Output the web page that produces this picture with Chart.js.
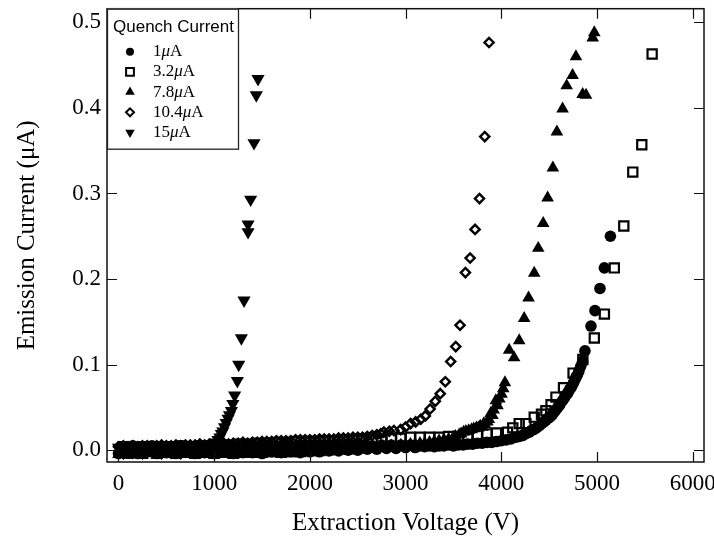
<!DOCTYPE html>
<html><head><meta charset="utf-8">
<script src="https://cdn.jsdelivr.net/npm/chart.js@4.4.1/dist/chart.umd.min.js"></script>
<style>html,body{margin:0;padding:0;background:#fff}canvas{display:block}</style>
</head><body>
<canvas id="c" width="714" height="542"></canvas>
<script>
// ---------- data ----------
const seriesLabels = ['1μA', '3.2μA', '7.8μA', '10.4μA', '15μA'];
const legendTitle = 'Quench Current';
const xTitle = 'Extraction Voltage (V)';
const yTitle = 'Emission Current (μA)';
const xTicks = [0, 1000, 2000, 3000, 4000, 5000, 6000];
const yTicks = [0.0, 0.1, 0.2, 0.3, 0.4, 0.5];

// [voltage (V), current (μA)]
const q1 = [[0,-0.004],[50,0.004],[100,-0.003],[150,0.005],[200,-0.004],[250,0.003],[300,-0.002],[350,0.005],[400,-0.004],[450,0.002],[500,-0.003],[550,0.004],[600,-0.004],[650,0.005],[700,-0.002],[750,0.003],[800,-0.004],[850,0.004],[900,-0.003],[950,0.005],[1000,-0.004],[1050,0.004],[1100,-0.002],[1150,0.005],[1200,-0.004],[1250,0.003],[1300,-0.003],[1350,0.005],[1400,-0.003],[1450,0.004],[1500,-0.004],[1550,0.005],[1600,-0.002],[1650,0.004],[1700,-0.003],[1750,0.006],[1800,-0.002],[1850,0.004],[1900,-0.003],[1950,0.005],[2000,-0.002],[2050,0.006],[2100,-0.002],[2150,0.005],[2200,-0.001],[2250,0.006],[2300,-0.001],[2350,0.005],[2400,0.000],[2450,0.006],[2500,0.000],[2550,0.006],[2600,0.001],[2650,0.005],[2700,0.001],[2750,0.006],[2800,0.002],[2850,0.006],[2900,0.002],[2950,0.006],[3000,0.003],[3050,0.006],[3100,0.003],[3150,0.005],[3200,0.004],[3250,0.005],[3300,0.004],[3350,0.005],[3400,0.005],[3450,0.006],[3500,0.005],[3550,0.006],[3600,0.006],[3650,0.007],[3700,0.007],[3750,0.008],[3800,0.008],[3850,0.009],[3900,0.009],[3950,0.010],[4000,0.011],[4050,0.012],[4100,0.013],[4150,0.015],[4190,0.016],[4222,0.017],[4250,0.019],[4270,0.020],[4291,0.021],[4315,0.023],[4335,0.024],[4355,0.025],[4379,0.027],[4400,0.029],[4420,0.031],[4445,0.033],[4466,0.035],[4485,0.037],[4500,0.038],[4520,0.040],[4536,0.042],[4555,0.045],[4570,0.047],[4590,0.050],[4605,0.052],[4620,0.055],[4640,0.058],[4660,0.061],[4675,0.064],[4690,0.066],[4700,0.068],[4715,0.071],[4728,0.073],[4742,0.076],[4755,0.079],[4768,0.082],[4780,0.085],[4795,0.088],[4810,0.092],[4830,0.098],[4850,0.104],[4874,0.116],[4937,0.145],[4979,0.163],[5031,0.189],[5077,0.213],[5140,0.250]];
const q32 = [[50,0.004],[150,0.003],[250,0.004],[350,0.003],[450,0.004],[550,0.004],[650,0.005],[750,0.004],[850,0.005],[950,0.005],[1050,0.006],[1150,0.006],[1250,0.007],[1350,0.007],[1450,0.008],[1550,0.008],[1650,0.009],[1750,0.009],[1850,0.010],[1950,0.010],[2050,0.010],[2150,0.011],[2250,0.011],[2350,0.012],[2450,0.012],[2550,0.012],[2650,0.013],[2750,0.013],[2850,0.014],[2950,0.014],[3050,0.015],[3150,0.015],[3250,0.015],[3350,0.015],[3450,0.016],[3550,0.016],[3650,0.017],[3750,0.018],[3850,0.019],[3950,0.020],[4065,0.021],[4120,0.026],[4187,0.031],[4257,0.031],[4344,0.0385],[4420,0.042],[4466,0.046],[4520,0.053],[4571,0.062],[4650,0.073],[4750,0.090],[4852,0.106],[4972,0.131],[5077,0.159],[5181,0.213],[5280,0.262],[5374,0.325],[5468,0.357],[5576,0.463]];
const q78 = [[0,-0.005],[50,-0.003],[100,-0.006],[150,-0.004],[200,-0.002],[250,-0.006],[300,-0.004],[350,-0.003],[400,-0.006],[450,-0.005],[500,-0.002],[550,-0.005],[600,-0.006],[650,-0.003],[700,-0.005],[750,-0.004],[800,-0.006],[850,-0.003],[900,-0.005],[950,-0.004],[1000,-0.006],[1050,-0.003],[1100,-0.005],[1150,-0.004],[1200,-0.006],[1250,-0.003],[1300,-0.005],[1350,-0.002],[1400,-0.005],[1450,-0.003],[1500,-0.005],[1550,-0.002],[1600,-0.004],[1650,-0.003],[1700,-0.005],[1750,-0.002],[1800,-0.004],[1850,-0.002],[1900,-0.004],[1950,-0.001],[2000,-0.003],[2050,-0.001],[2100,-0.003],[2150,0.000],[2200,-0.002],[2250,0.000],[2300,-0.001],[2350,0.001],[2400,-0.001],[2450,0.002],[2500,0.000],[2550,0.002],[2600,0.001],[2650,0.003],[2700,0.002],[2750,0.004],[2800,0.003],[2850,0.005],[2900,0.004],[2950,0.006],[3000,0.005],[3050,0.007],[3100,0.007],[3150,0.008],[3200,0.008],[3250,0.009],[3300,0.010],[3350,0.011],[3400,0.012],[3450,0.013],[3500,0.015],[3520,0.016],[3560,0.018],[3580,0.019],[3607,0.021],[3630,0.022],[3660,0.023],[3690,0.024],[3712,0.025],[3740,0.026],[3760,0.026],[3780,0.028],[3803,0.027],[3817,0.031],[3830,0.030],[3855,0.033],[3870,0.036],[3890,0.043],[3908,0.0405],[3920,0.047],[3943,0.058],[3960,0.052],[3980,0.060],[4002,0.0656],[4020,0.072],[4038,0.079],[4082,0.117],[4134,0.108],[4187,0.128],[4239,0.154],[4285,0.178],[4344,0.207],[4386,0.236],[4438,0.265],[4484,0.295],[4539,0.330],[4581,0.372],[4640,0.399],[4683,0.426],[4745,0.438],[4780,0.460],[4850,0.416],[4885,0.415],[4955,0.482],[4972,0.488]];
const q104 = [[0,0.004],[50,0.005],[100,0.004],[150,0.005],[200,0.004],[250,0.005],[300,0.005],[350,0.004],[400,0.005],[450,0.006],[500,0.005],[550,0.005],[600,0.006],[650,0.005],[700,0.006],[750,0.006],[800,0.006],[850,0.007],[900,0.006],[950,0.007],[1000,0.007],[1050,0.007],[1100,0.008],[1150,0.007],[1200,0.008],[1250,0.008],[1300,0.009],[1350,0.008],[1400,0.009],[1450,0.009],[1500,0.010],[1550,0.010],[1600,0.010],[1650,0.011],[1700,0.011],[1750,0.011],[1800,0.011],[1850,0.012],[1900,0.012],[1950,0.012],[2000,0.012],[2050,0.012],[2100,0.013],[2150,0.013],[2200,0.013],[2250,0.013],[2300,0.014],[2350,0.014],[2400,0.014],[2450,0.015],[2500,0.015],[2550,0.015],[2600,0.016],[2650,0.017],[2700,0.018],[2740,0.019],[2773,0.021],[2830,0.022],[2878,0.023],[2948,0.024],[3000,0.027],[3052,0.031],[3105,0.033],[3158,0.036],[3206,0.040],[3256,0.048],[3310,0.057],[3362,0.066],[3415,0.080],[3471,0.1035],[3524,0.121],[3569,0.146],[3625,0.2075],[3674,0.2245],[3726,0.258],[3772,0.294],[3827,0.3665],[3872,0.4765]];
const q15 = [[0,0.003],[50,-0.003],[100,0.005],[150,-0.002],[200,0.004],[250,-0.003],[300,0.005],[350,-0.001],[400,0.004],[450,-0.003],[500,0.005],[550,-0.002],[600,0.004],[650,-0.003],[700,0.005],[750,-0.001],[800,0.004],[850,-0.002],[900,0.005],[950,0.004],[975,0.005],[1000,0.006],[1020,0.009],[1040,0.012],[1060,0.015],[1075,0.019],[1090,0.022],[1108,0.027],[1125,0.032],[1145,0.037],[1160,0.041],[1180,0.046],[1195,0.054],[1214,0.064],[1242,0.081],[1256,0.100],[1284,0.131],[1312,0.175],[1354,0.255],[1354,0.264],[1381,0.293],[1416,0.359],[1440,0.415],[1458,0.434]];

// ---------- styles ----------
const SERIF = '"Liberation Serif", "Times New Roman", serif';
const SANS = '"Liberation Sans", Arial, sans-serif';
const toPts = a => a.map(p => ({x: p[0], y: p[1]}));
const styles = [
  {pointStyle: 'circle', pointRadius: 5.8, pointBackgroundColor: '#000', pointBorderColor: '#000', pointBorderWidth: 0, rotation: 0, order: 1},
  {pointStyle: 'rect', pointRadius: 6.5, pointBackgroundColor: 'rgba(255,255,255,0)', pointBorderColor: '#000', pointBorderWidth: 2.2, rotation: 0, order: 4},
  {pointStyle: 'triangle', pointRadius: 7.3, pointBackgroundColor: '#000', pointBorderColor: '#000', pointBorderWidth: 0, rotation: 0, order: 2},
  {pointStyle: 'rectRot', pointRadius: 4.6, pointBackgroundColor: 'rgba(255,255,255,0)', pointBorderColor: '#000', pointBorderWidth: 2.4, rotation: 0, order: 3},
  {pointStyle: 'triangle', pointRadius: 7.6, pointBackgroundColor: '#000', pointBorderColor: '#000', pointBorderWidth: 0, rotation: 180, order: 0}
];
const allData = [q1, q32, q78, q104, q15];
const datasets = allData.map((d, i) => Object.assign({
  label: seriesLabels[i], data: toPts(d), showLine: false,
  pointRotation: styles[i].rotation, pointHoverRadius: styles[i].pointRadius
}, styles[i]));

// ---------- plugin: frame, inward ticks, legend ----------
function shape(ctx, kind, x, y, r, rot) {
  ctx.beginPath();
  if (kind === 'circle') { ctx.arc(x, y, r, 0, Math.PI * 2); }
  else if (kind === 'rect') { const s = r * Math.SQRT1_2; ctx.rect(x - s, y - s, 2 * s, 2 * s); }
  else if (kind === 'rectRot') { ctx.moveTo(x - r, y); ctx.lineTo(x, y - r); ctx.lineTo(x + r, y); ctx.lineTo(x, y + r); ctx.closePath(); }
  else if (kind === 'triangle') {
    let a = rot ? Math.PI : 0;
    ctx.moveTo(x + Math.sin(a) * r, y - Math.cos(a) * r);
    a += 2 * Math.PI / 3; ctx.lineTo(x + Math.sin(a) * r, y - Math.cos(a) * r);
    a += 2 * Math.PI / 3; ctx.lineTo(x + Math.sin(a) * r, y - Math.cos(a) * r);
    ctx.closePath();
  }
}
const framePlugin = {
  id: 'frame',
  afterDatasetsDraw(chart) {
    const {ctx, chartArea: a, scales: {x, y}} = chart;
    ctx.save();
    ctx.strokeStyle = '#111'; ctx.lineWidth = 1.5;
    ctx.strokeRect(a.left, a.top, a.right - a.left, a.bottom - a.top);
    ctx.lineWidth = 1.2;
    const L = 10;
    ctx.beginPath();
    x.ticks.forEach(t => {
      const p = Math.round(x.getPixelForValue(t.value)) + 0.5;
      ctx.moveTo(p, a.bottom); ctx.lineTo(p, a.bottom - L);
      ctx.moveTo(p, a.top); ctx.lineTo(p, a.top + L);
    });
    y.ticks.forEach(t => {
      const p = Math.round(y.getPixelForValue(t.value)) + 0.5;
      ctx.moveTo(a.left, p); ctx.lineTo(a.left + L, p);
      ctx.moveTo(a.right, p); ctx.lineTo(a.right - L, p);
    });
    ctx.stroke();

    // legend box
    const bx = a.left, by = a.top, bw = 131, bh = 140;
    ctx.fillStyle = '#fff';
    ctx.fillRect(bx, by, bw, bh);
    ctx.lineWidth = 1.3; ctx.strokeStyle = '#222';
    ctx.strokeRect(bx + 0.5, by + 0.5, bw, bh);
    ctx.fillStyle = '#000';
    ctx.font = '17px ' + SANS;
    ctx.textBaseline = 'middle'; ctx.textAlign = 'left';
    ctx.fillText(legendTitle, bx + 6, by + 19);
    const sizes = [4, 5.5, 5.5, 4, 5.5];
    chart.data.datasets.forEach((ds, i) => {
      const cy = by + 43 + i * 20.2, mx = bx + 23;
      shape(ctx, ds.pointStyle, mx, cy, sizes[i], ds.pointRotation);
      if (!ds.pointBorderWidth) { ctx.fillStyle = '#000'; ctx.fill(); }
      else { ctx.lineWidth = 2; ctx.strokeStyle = '#000'; ctx.stroke(); }
      ctx.fillStyle = '#000';
      const parts = ds.label.split('μ');
      let tx = bx + 46;
      ctx.font = '17px ' + SERIF;
      ctx.fillText(parts[0], tx, cy); tx += ctx.measureText(parts[0]).width;
      ctx.font = 'italic 17px ' + SERIF;
      ctx.fillText('μ', tx, cy); tx += ctx.measureText('μ').width;
      ctx.font = '17px ' + SERIF;
      ctx.fillText(parts[1], tx, cy);
    });
    ctx.restore();
  }
};

new Chart(document.getElementById('c'), {
  type: 'scatter',
  data: {datasets},
  options: {
    responsive: false, animation: false, devicePixelRatio: 1,
    layout: {padding: {left: 0, right: 10, top: 5, bottom: 0}},
    plugins: {legend: {display: false}, tooltip: {enabled: false}},
    scales: {
      x: {
        type: 'linear', min: -120, max: 6118,
        afterBuildTicks: s => { s.ticks = xTicks.map(v => ({value: v})); },
        afterFit: s => { s.height = 80; s.paddingLeft = 0; s.paddingRight = 0; },
        grid: {display: false, drawTicks: false},
        border: {display: false},
        ticks: {color: '#000', padding: 8, maxRotation: 0, autoSkip: false, font: {family: SERIF, size: 23}, callback: v => String(v)},
        title: {display: true, text: xTitle, color: '#000', font: {family: SERIF, size: 25}, padding: {top: 0, bottom: 4}}
      },
      y: {
        type: 'linear', min: -0.0139, max: 0.516,
        afterBuildTicks: s => { s.ticks = yTicks.map(v => ({value: v})); },
        afterFit: s => { s.width = 107; s.paddingTop = 0; s.paddingBottom = 0; },
        grid: {display: false, drawTicks: false},
        border: {display: false},
        ticks: {color: '#000', padding: 6, autoSkip: false, font: {family: SERIF, size: 23}, callback: v => v.toFixed(1)},
        title: {display: true, text: yTitle, color: '#000', font: {family: SERIF, size: 25}, padding: {top: 12, bottom: 0}}
      }
    }
  },
  plugins: [framePlugin]
});
</script>
</body></html>
